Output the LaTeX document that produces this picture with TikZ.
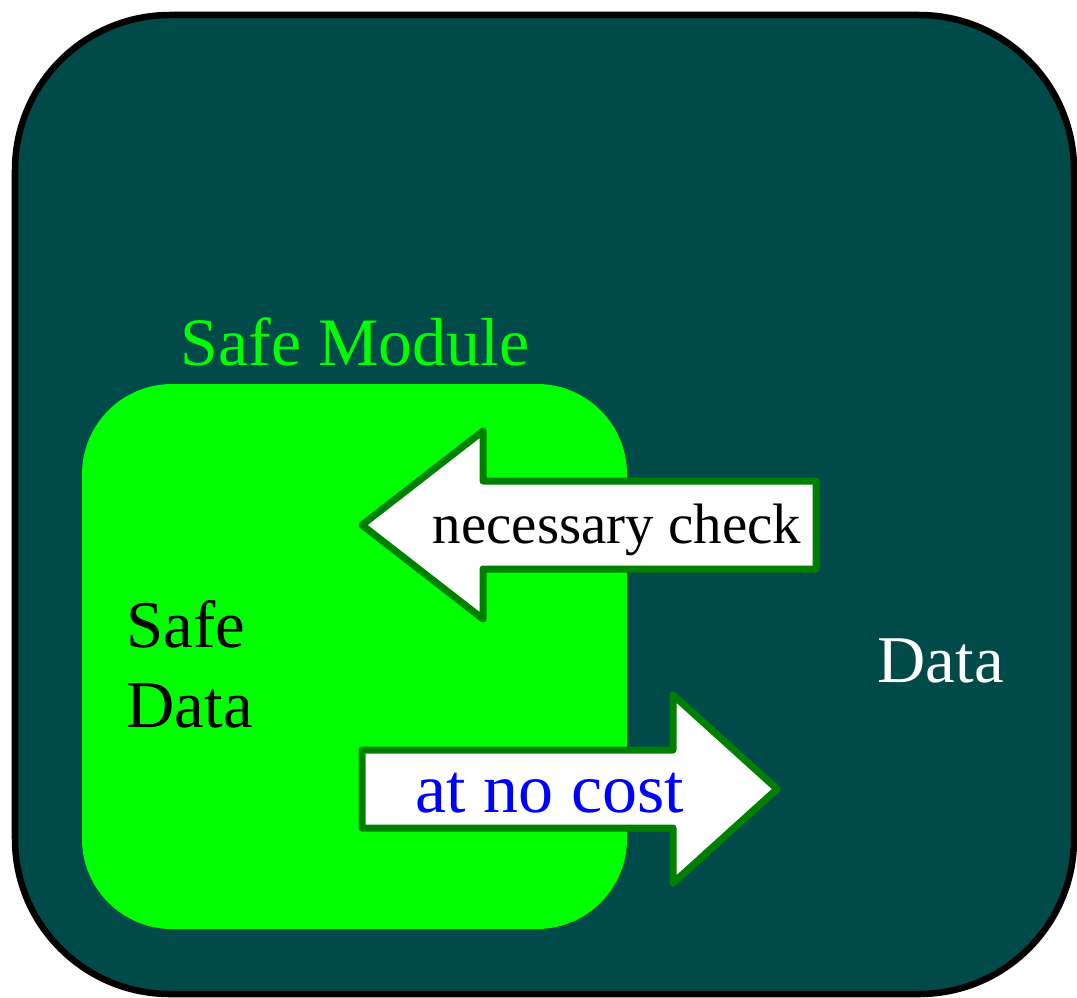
\documentclass[tikz,border=0pt]{standalone}
\usepackage{fontspec}
\setmainfont{Liberation Serif}
\definecolor{darkteal}{RGB}{0,74,74}
\definecolor{brightgreen}{RGB}{0,255,0}
\definecolor{arrowgreen}{RGB}{0,128,0}
\tikzset{
  outerbox/.style={fill=darkteal,draw=black,line width=0.065cm,rounded corners=1.55cm},
  modulebox/.style={fill=brightgreen,rounded corners=0.9cm},
  fatarrow/.style={fill=white,draw=arrowgreen,line width=0.07cm,line join=round},
  label/.style={inner sep=0pt,anchor=base west,font=\fontsize{19}{22}\selectfont},
}
\begin{document}
\begin{tikzpicture}[x=0.01cm,y=-0.01cm]
\useasboundingbox (0,0) rectangle (1077,997);
% outer data area
\draw[outerbox] (15,15) rectangle (1074,994);
% safe module
\fill[modulebox] (82,384) rectangle (627,929);
\node[label,text=brightgreen,font=\fontsize{19.3}{22}\selectfont] (title) at (180,365) {Safe Module};
% incoming check arrow
\draw[fatarrow] (816,481) -- (483,481) -- (483,431) -- (362,525) -- (483,619) -- (483,569) -- (816,569) -- cycle;
\node[label,text=black,font=\fontsize{16.2}{19}\selectfont] (check) at (432,543) {necessary check};
% outgoing arrow
\draw[fatarrow] (362,750) -- (673,750) -- (673,695) -- (777,789) -- (673,883) -- (673,828) -- (362,828) -- cycle;
\node[label,text=blue,font=\fontsize{19.9}{22}\selectfont] (free) at (415,812) {at no cost};
% inner and outer data labels
\node[label,text=black] (safe) at (126,647) {Safe};
\node[label,text=black] (safedata) at (126,727) {Data};
\node[label,text=white] (data) at (877,682) {Data};
\end{tikzpicture}
\end{document}
